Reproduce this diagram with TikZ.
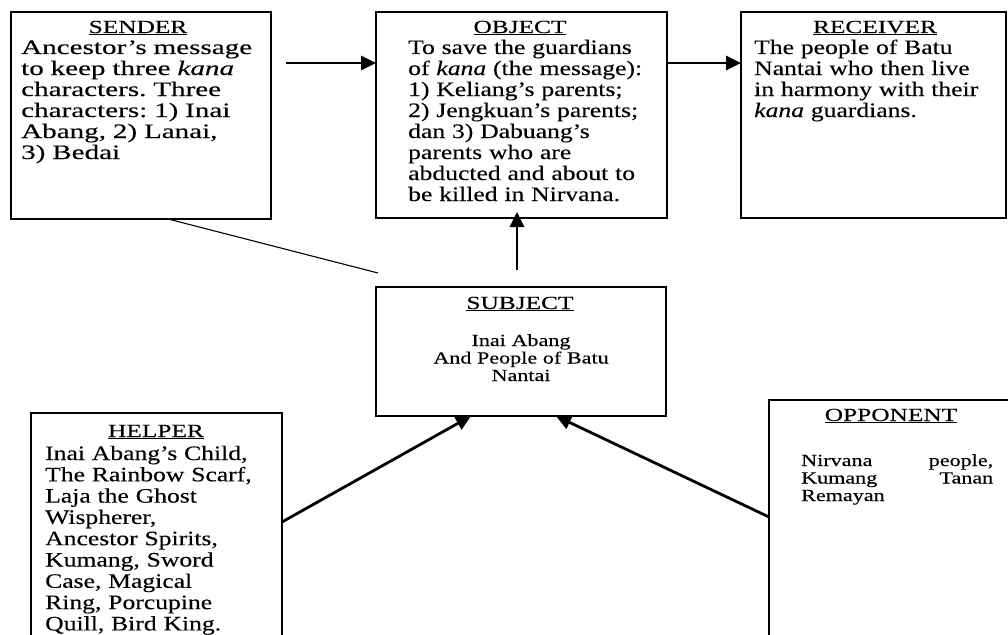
\documentclass[tikz,border=0pt]{standalone}
\usepackage{fontspec}
\setmainfont{Liberation Serif}[FakeStretch=1.25, FakeBold=0.2, ItalicFont={Liberation Serif Italic}]
\newfontfamily\senderfont{Liberation Serif}[FakeStretch=1.42, FakeBold=0.2, ItalicFont={Liberation Serif Italic}]
\newfontfamily\titlefont{Liberation Serif}[FakeStretch=1.37, FakeBold=0.2]
\newfontfamily\smallfont{Liberation Serif}[FakeStretch=1.3, FakeBold=0.2]
\frenchspacing
\usetikzlibrary{arrows.meta}
\tikzset{
  box/.style={draw=black, line width=1.6pt, inner sep=0pt, outer sep=0pt, anchor=north west},
  ttl/.style={inner sep=0pt, anchor=base, font=\fontsize{18.5}{21}\titlefont},
  body/.style={inner sep=0pt, anchor=base west, align=left, text width=300pt, font=\fontsize{20.5}{21}\selectfont},
  smallbody/.style={inner sep=0pt, font=\fontsize{17}{17.5}\smallfont},
  arr/.style={line width=2.8pt, -{Triangle[length=15pt,width=14pt]}},
  thin/.style={line width=1.1pt}
}
\begin{document}
\begin{tikzpicture}[x=1pt,y=-1pt]
\useasboundingbox (0,0) rectangle (1008,634);
\clip (0,0) rectangle (1008,634);
% boxes
\node[box, minimum width=260pt, minimum height=207pt] (sender) at (11,12) {};
\node[box, minimum width=291pt, minimum height=206pt] (obj) at (376,12) {};
\node[box, minimum width=265pt, minimum height=206pt] (rec) at (741,12) {};
\node[box, minimum width=290pt, minimum height=129pt] (subj) at (376,287) {};
\node[box, minimum width=251pt, minimum height=290pt] (helper) at (31,413) {};
\node[box, minimum width=280pt, minimum height=300pt] (opp) at (769,400) {};
% titles
\node[ttl] (sendert) at (138,33) {\underline{SENDER}};
\node[ttl] (objt) at (520,33) {\underline{OBJECT}};
\node[ttl] (rect) at (875,33) {\underline{RECEIVER}};
\node[ttl] (subjt) at (520,309) {\underline{SUBJECT}};
\node[ttl] (helpert) at (156,437) {\underline{HELPER}};
\node[ttl] (oppt) at (891,421) {\underline{OPPONENT}};
% bodies
\node[body, font=\fontsize{20.5}{21}\senderfont] (sendertx) at (21,54) {Ancestor’s message\\
to keep three \textit{kana}\\
characters. Three\\
characters: 1) Inai\\
Abang, 2) Lanai,\\
3) Bedai};
\node[body] (objtx) at (408,54) {To save the guardians\\
of \textit{kana} (the message):\\
1) Keliang’s parents;\\
2) Jengkuan’s parents;\\
dan 3) Dabuang’s\\
parents who are\\
abducted and about to\\
be killed in Nirvana.};
\node[body] (rectx) at (754,54) {The people of Batu\\
Nantai who then live\\
in harmony with their\\
\textit{kana} guardians.};
\node[body, font=\fontsize{20.5}{21.3}\selectfont] (helpertx) at (45,460) {Inai Abang’s Child,\\
The Rainbow Scarf,\\
Laja the Ghost\\
Wispherer,\\
Ancestor Spirits,\\
Kumang, Sword\\
Case, Magical\\
Ring, Porcupine\\
Quill, Bird King.};
\node[smallbody, anchor=base, align=center, text width=280pt] (subjtx) at (521,346) {Inai Abang\\
And People of Batu\\
Nantai};
\node[smallbody, anchor=base west, align=left, text width=200pt] (opptx) at (801,466) {\leavevmode\hbox to 192pt{Nirvana\hfill people,}\\
\leavevmode\hbox to 192pt{Kumang\hfill Tanan}\\
Remayan};
% connectors
\coordinate (a1s) at (286,63);
\coordinate (a3s) at (517,270);
\coordinate (lend) at (378,273);
\draw[arr] (a1s) -- (obj.west |- a1s);
\draw[arr] (obj.east |- a1s) -- (rec.west |- a1s);
\draw[arr] (a3s) -- ([yshift=6pt]obj.south -| a3s);
\draw[arr] (helper.east |- 0,522) -- (subj.south -| 471,0);
\draw[arr] (opp.west |- 0,517) -- (subj.south -| 556,0);
\draw[thin] (sender.south -| 168,0) -- (lend);
\end{tikzpicture}
\end{document}
